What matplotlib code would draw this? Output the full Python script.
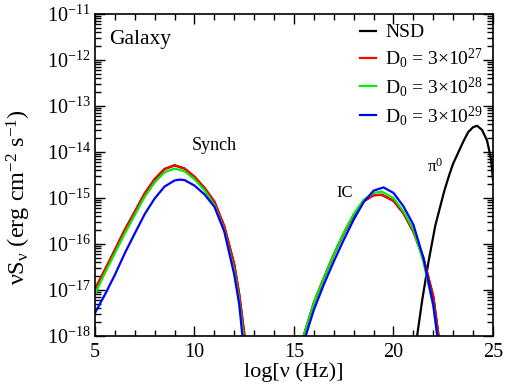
import numpy as np
import matplotlib
matplotlib.use("Agg")
import matplotlib.pyplot as plt
from matplotlib.ticker import FixedLocator, FuncFormatter

plt.rcParams['font.family'] = ['Liberation Serif', 'DejaVu Serif']
plt.rcParams['mathtext.fontset'] = 'custom'
plt.rcParams['mathtext.rm'] = 'Liberation Serif'
plt.rcParams['mathtext.it'] = 'Liberation Serif:italic'
plt.rcParams['mathtext.default'] = 'regular'

fs = 14.5  # used as fontsize

# synchrotron bump: log(nu), log(nu S_nu)
syn_x_red = [5, 5.5, 6, 6.5, 7, 7.5, 8, 8.5, 9, 9.5, 10, 10.5, 11, 11.5, 12, 12.25, 12.53]
syn_y_red = [-16.98, -16.56, -16.13, -15.69, -15.30, -14.90, -14.59, -14.37, -14.29, -14.36,
             -14.54, -14.78, -15.08, -15.62, -16.45, -17.10, -18.05]
syn_x_green = [5, 5.5, 6, 6.5, 7, 7.5, 8, 8.5, 9, 9.5, 10, 10.5, 11, 11.5, 12, 12.25, 12.47]
syn_y_green = [-17.09, -16.63, -16.20, -15.77, -15.37, -14.97, -14.66, -14.44, -14.36, -14.42,
               -14.59, -14.83, -15.15, -15.71, -16.60, -17.25, -18.05]
syn_x_blue = [5, 5.5, 6, 6.5, 7, 7.5, 8, 8.5, 9, 9.25, 9.5, 10, 10.5, 11, 11.5, 12, 12.25, 12.42]
syn_y_blue = [-17.50, -17.10, -16.67, -16.20, -15.77, -15.35, -15.01, -14.75, -14.62, -14.60,
              -14.61, -14.73, -14.92, -15.19, -15.73, -16.67, -17.32, -18.05]

# inverse Compton bump
ic_x_red = [15.45, 16, 16.5, 17, 17.5, 18, 18.5, 19, 19.4, 20, 20.5, 21, 21.5, 22, 22.28]
ic_y_red = [-18.05, -17.28, -16.74, -16.23, -15.77, -15.37, -15.07, -14.94, -14.93, -15.06,
            -15.33, -15.73, -16.30, -17.14, -18.05]
ic_x_green = [15.45, 16, 16.5, 17, 17.5, 18, 18.5, 19, 19.4, 20, 20.5, 21, 21.5, 22, 22.22]
ic_y_green = [-18.05, -17.28, -16.74, -16.23, -15.76, -15.35, -15.04, -14.89, -14.86, -15.00,
              -15.29, -15.69, -16.38, -17.36, -18.05]
ic_x_blue = [15.55, 16, 16.5, 17, 17.5, 18, 18.5, 19, 19.5, 20, 20.5, 21, 21.5, 22, 22.22]
ic_y_blue = [-18.05, -17.43, -16.88, -16.38, -15.91, -15.47, -15.09, -14.84, -14.77, -14.89,
             -15.18, -15.58, -16.30, -17.32, -18.05]

# NSD: leptonic part follows the red curve, plus the pi0 bump
pi_x = [21.17, 21.45, 21.75, 22.1, 22.55, 22.8, 23.0, 23.5, 23.75, 24.0, 24.2, 24.45, 24.7,
        24.9, 25.0]
pi_y = [-18.05, -17.20, -16.41, -15.60, -14.85, -14.50, -14.25, -13.78, -13.57, -13.46, -13.43,
        -13.52, -13.75, -14.15, -14.60]

labels = ["NSD", r"D$_0$ = 3×10$^{27}$", r"D$_0$ = 3×10$^{28}$", r"D$_0$ = 3×10$^{29}$"]
y_decades = [-18, -17, -16, -15, -14, -13, -12, -11]

fig = plt.figure(figsize=(5.06, 3.91), dpi=100)
ax = fig.add_axes([0.1877, 0.1407, 0.7866, 0.8235])

lw = 1.6
ax.plot(syn_x_red, 10**np.array(syn_y_red), color="black", lw=lw)
ax.plot(ic_x_red, 10**np.array(ic_y_red), color="black", lw=lw)
ax.plot(pi_x, 10**np.array(pi_y), color="black", lw=lw, label=labels[0])

ax.plot(syn_x_red, 10**np.array(syn_y_red), color="#ff0000", lw=lw, label=labels[1])
ax.plot(ic_x_red, 10**np.array(ic_y_red), color="#ff0000", lw=lw)
ax.plot(syn_x_green, 10**np.array(syn_y_green), color="#00ee00", lw=lw, label=labels[2])
ax.plot(ic_x_green, 10**np.array(ic_y_green), color="#00ee00", lw=lw)
ax.plot(syn_x_blue, 10**np.array(syn_y_blue), color="#0000ff", lw=lw, label=labels[3])
ax.plot(ic_x_blue, 10**np.array(ic_y_blue), color="#0000ff", lw=lw)

ax.set_yscale("log")
ax.set_xlim(5, 25)
ax.set_ylim(1e-18, 1e-11)

ax.xaxis.set_major_locator(FixedLocator([5, 10, 15, 20, 25]))
ax.xaxis.set_minor_locator(FixedLocator(np.arange(5, 26, 1)))
minors = [m * 10.0**d for d in y_decades[:-1] for m in range(2, 10)]
ax.yaxis.set_major_locator(FixedLocator([10.0**d for d in y_decades]))
ax.yaxis.set_minor_locator(FixedLocator(minors))
ax.yaxis.set_major_formatter(FuncFormatter(lambda v, p: r"10$^{%d}$" % round(np.log10(v))))

ax.tick_params(which="both", direction="in", top=True, right=True, labelsize=fs, width=1.0)
ax.tick_params(which="major", length=7)
ax.tick_params(which="minor", length=4)
ax.tick_params(axis="x", pad=5)
ax.tick_params(axis="y", pad=3)
for s in ax.spines.values():
    s.set_linewidth(1.2)

ax.set_xlabel(r"log[ν (Hz)]", fontsize=16, labelpad=0)
ax.set_ylabel(r"νS$_ν$ (erg cm$^{-2}$ s$^{-1}$)", fontsize=17.5)
ax.yaxis.set_label_coords(-0.155, 0.43)

ax.text(0.035, 0.92, "Galaxy", transform=ax.transAxes, fontsize=15.5, va="center")
ax.text(0.30, 0.593, "Synch", transform=ax.transAxes, fontsize=13, ha="center", va="center")
ax.text(0.628, 0.444, "IC", transform=ax.transAxes, fontsize=12, ha="center", va="center")
ax.text(0.855, 0.525, r"π$^0$", transform=ax.transAxes, fontsize=12.5, ha="center", va="center")

ax.legend(loc="upper right", bbox_to_anchor=(1.0, 1.0), frameon=False, fontsize=14,
          handlelength=0.8, handletextpad=0.5, labelspacing=0.25, borderaxespad=0.1)

plt.savefig("out.png", dpi=100)
